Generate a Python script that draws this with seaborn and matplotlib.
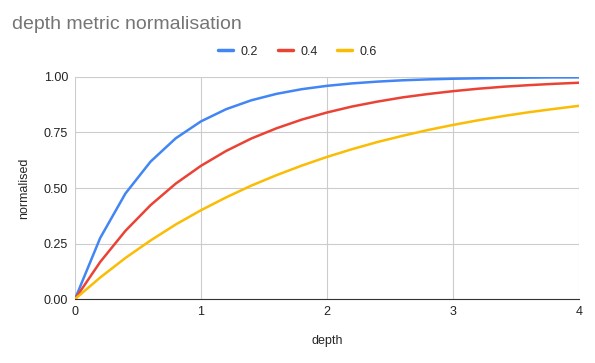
import matplotlib
matplotlib.use("Agg")
import matplotlib.pyplot as plt
import pandas as pd
import seaborn as sns

# valores
depth = [0.0, 0.2, 0.4, 0.6, 0.8, 1.0, 1.2, 1.4, 1.6, 1.8, 2.0,
         2.2, 2.4, 2.6, 2.8, 3.0, 3.2, 3.4, 3.6, 3.8, 4.0]
norm_02 = [0.0, 0.275, 0.475, 0.619, 0.724, 0.80, 0.855, 0.895, 0.924, 0.945, 0.96,
           0.971, 0.979, 0.985, 0.989, 0.992, 0.994, 0.996, 0.997, 0.998, 0.998]
norm_04 = [0.0, 0.167, 0.307, 0.423, 0.52, 0.60, 0.667, 0.723, 0.769, 0.808, 0.84,
           0.867, 0.889, 0.908, 0.923, 0.936, 0.947, 0.956, 0.963, 0.969, 0.974]
norm_06 = [0.0, 0.097, 0.185, 0.264, 0.336, 0.40, 0.458, 0.511, 0.558, 0.601, 0.64,
           0.675, 0.707, 0.735, 0.761, 0.784, 0.805, 0.824, 0.841, 0.856, 0.87]
series = ["0.2", "0.4", "0.6"]
colors = ["#4285F4", "#EA4335", "#FBBC04"]


def build_df():
    rows = []
    for name, vals in zip(series, [norm_02, norm_04, norm_06]):
        for d, v in zip(depth, vals):
            rows.append({"depth": d, "normalised": v, "k": name})
    return pd.DataFrame(rows)


def plot(df):
    sns.set_style("white")
    plt.rcParams["font.family"] = ["Arial", "Liberation Sans", "DejaVu Sans"]
    fig = plt.figure(figsize=(5.95, 3.63), dpi=100)
    ax = fig.add_axes([0.126, 0.176, 0.847, 0.612])
    sns.lineplot(data=df, x="depth", y="normalised", hue="k", hue_order=series,
                 palette=colors, linewidth=1.8, ax=ax, legend=False)
    ax.set_xlim(0, 4)
    ax.set_ylim(0, 1)
    ax.set_xticks([0, 1, 2, 3, 4])
    ax.set_yticks([0, 0.25, 0.5, 0.75, 1.0])
    ax.set_yticklabels(["0.00", "0.25", "0.50", "0.75", "1.00"])
    ax.grid(True, color="#cccccc", linewidth=0.8)
    for s in ["top", "right", "left"]:
        ax.spines[s].set_visible(False)
    ax.spines["bottom"].set_color("#333333")
    ax.tick_params(length=0, labelsize=9, colors="#222222", pad=5)
    ax.set_xlabel("depth", fontsize=9, labelpad=12)
    ax.set_ylabel("normalised", fontsize=9, labelpad=10)

    fig.text(0.02, 0.92, "depth metric normalisation", fontsize=14, color="#757575")
    handles = [plt.Line2D([], [], color=c, linewidth=2.5) for c in colors]
    fig.legend(handles, series, loc="center", bbox_to_anchor=(0.5, 0.858), ncol=3,
               frameon=False, fontsize=9, handlelength=1.2, columnspacing=1.6,
               handletextpad=0.6)
    fig.savefig("out.png", dpi=100)


if __name__ == "__main__":
    plot(build_df())
